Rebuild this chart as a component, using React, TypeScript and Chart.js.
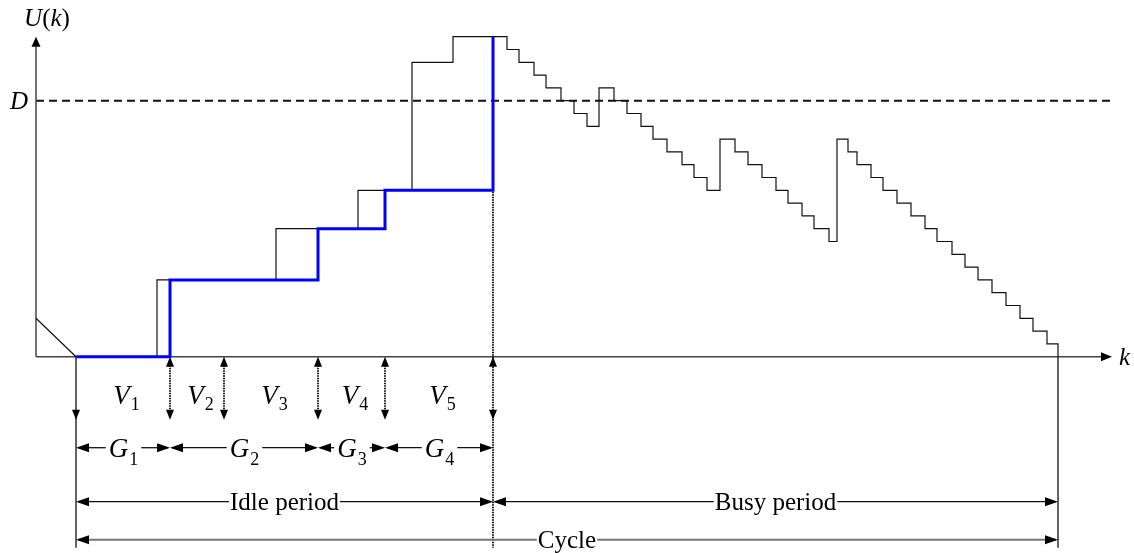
import React, { useEffect, useRef } from 'react';
import { Chart, registerables } from 'chart.js';

Chart.register(...registerables);

// ---- Data (k = time slot, U = unfinished work; D = threshold) ----
// Arrival workload staircase: level of U(k) that starts at each k
const arrivalK = [4.0, 12.1, 24.0, 32.2, 37.6, 41.7, 47.1, 48.3, 49.8, 51.0, 52.5, 53.8, 55.1, 56.3, 57.8, 59.1, 60.5, 61.7, 63.1, 64.6, 65.8, 67.1, 68.4, 69.9, 71.2, 72.6, 74.0, 75.2, 76.6, 77.8, 79.3, 80.1, 81.2, 82.1, 83.5, 84.7, 86.1, 87.5, 88.9, 90.1, 91.6, 92.9, 94.2, 95.6, 97.0, 98.4, 99.7, 101.1, 102.2];
const arrivalU = [0, 3, 5, 6.5, 11.5, 12.5, 12, 11.5, 11, 10.5, 10, 9.5, 9, 10.5, 10, 9.5, 9, 8.5, 8, 7.5, 7, 6.5, 8.5, 8, 7.5, 7, 6.5, 6, 5.5, 5, 4.5, 8.5, 8, 7.5, 7, 6.5, 6, 5.5, 5, 4.5, 4, 3.5, 3, 2.5, 2, 1.5, 1, 0.5, 0];
// Workload seen at gate instants (blue)
const gateK = [4.0, 13.4, 28.2, 34.9, 45.7];
const gateU = [0, 3, 5, 6.5, 12.5];
// Previous busy period draining
const drainK = [0, 4.0];
const drainU = [1.5, 0];
// Vacation boundaries
const vacationK = [4.0, 13.4, 18.8, 28.2, 34.9, 45.7];
const vLabels = ['1', '2', '3', '4', '5'];
const gLabels = ['1', '2', '3', '4'];
const thresholdD = 10;
const idleStart = 4.0;
const busyStart = 45.7;
const busyEnd = 102.2;
const axisTopU = 12.5;
const axisEndK = 107.6;

const SERIF = '"Liberation Serif", "Times New Roman", serif';

function arrowHead(ctx: CanvasRenderingContext2D, tx: number, ty: number, dir: 'up' | 'down' | 'left' | 'right', len: number, half: number) {
  ctx.beginPath();
  ctx.moveTo(tx, ty);
  if (dir === 'up') { ctx.lineTo(tx - half, ty + len); ctx.lineTo(tx + half, ty + len); }
  if (dir === 'down') { ctx.lineTo(tx - half, ty - len); ctx.lineTo(tx + half, ty - len); }
  if (dir === 'left') { ctx.lineTo(tx + len, ty - half); ctx.lineTo(tx + len, ty + half); }
  if (dir === 'right') { ctx.lineTo(tx - len, ty - half); ctx.lineTo(tx - len, ty + half); }
  ctx.closePath();
  ctx.fill();
}

function seg(ctx: CanvasRenderingContext2D, x1: number, y1: number, x2: number, y2: number) {
  ctx.beginPath();
  ctx.moveTo(x1, y1);
  ctx.lineTo(x2, y2);
  ctx.stroke();
}

function subLabel(ctx: CanvasRenderingContext2D, main: string, sub: string, cx: number, base: number, size: number, subSize: number, subDrop: number) {
  ctx.font = `italic ${size}px ${SERIF}`;
  const w1 = ctx.measureText(main).width;
  ctx.font = `${subSize}px ${SERIF}`;
  const w2 = ctx.measureText(sub).width;
  const left = cx - (w1 + w2) / 2;
  ctx.textAlign = 'left';
  ctx.textBaseline = 'alphabetic';
  ctx.font = `italic ${size}px ${SERIF}`;
  ctx.fillText(main, left, base);
  ctx.font = `${subSize}px ${SERIF}`;
  ctx.fillText(sub, left + w1 + 1, base + subDrop);
  return [left, left + w1 + w2 + 1];
}

function spanArrow(ctx: CanvasRenderingContext2D, xa: number, xb: number, yy: number, gapL: number, gapR: number, head: number) {
  seg(ctx, xa + 2, yy, gapL, yy);
  seg(ctx, gapR, yy, xb - 2, yy);
  arrowHead(ctx, xa, yy, 'left', head, 4.5);
  arrowHead(ctx, xb, yy, 'right', head, 4.5);
}

const diagram = {
  id: 'diagram',
  beforeDatasetsDraw(chart: any) {
    const { ctx, scales } = chart;
    const X = (k: number) => scales.x.getPixelForValue(k);
    const Y = (u: number) => scales.y.getPixelForValue(u);
    const x0 = X(0);
    const y0 = Y(0);
    ctx.save();

    // threshold D
    ctx.strokeStyle = '#111';
    ctx.lineWidth = 2;
    ctx.setLineDash([8, 5]);
    seg(ctx, x0, Y(thresholdD), X(axisEndK), Y(thresholdD));
    ctx.setLineDash([]);

    // axes
    ctx.strokeStyle = '#444';
    ctx.fillStyle = '#000';
    ctx.lineWidth = 1.5;
    seg(ctx, x0, y0, x0, Y(axisTopU) + 6);
    arrowHead(ctx, x0, Y(axisTopU), 'up', 10, 4.5);
    seg(ctx, x0, y0, X(axisEndK) - 6, y0);
    arrowHead(ctx, X(axisEndK), y0, 'right', 11, 4.5);

    // axis labels
    ctx.fillStyle = '#000';
    ctx.textBaseline = 'alphabetic';
    ctx.textAlign = 'left';
    const parts: [string, boolean][] = [['U', true], ['(', false], ['k', true], [')', false]];
    let tw = 0;
    for (const [t, it] of parts) { ctx.font = `${it ? 'italic ' : ''}25px ${SERIF}`; tw += ctx.measureText(t).width; }
    let px = x0 + 11 - tw / 2;
    for (const [t, it] of parts) { ctx.font = `${it ? 'italic ' : ''}25px ${SERIF}`; ctx.fillText(t, px, 26); px += ctx.measureText(t).width; }
    ctx.font = `italic 25px ${SERIF}`;
    ctx.textAlign = 'right';
    ctx.fillText('D', x0 - 8, Y(thresholdD) + 8);
    ctx.textAlign = 'left';
    ctx.fillText('k', X(axisEndK) + 7, y0 + 8);

    const bottom = y0 + 191;
    const vTip = y0 + 63;

    // idle start marker (solid)
    ctx.strokeStyle = '#222';
    ctx.lineWidth = 1.4;
    seg(ctx, X(idleStart), y0, X(idleStart), bottom);
    arrowHead(ctx, X(idleStart), vTip, 'down', 10, 4);
    // busy end marker (solid)
    seg(ctx, X(busyEnd), y0, X(busyEnd), bottom);

    // dotted vacation-end arrows
    ctx.strokeStyle = '#000';
    ctx.lineWidth = 1.8;
    ctx.setLineDash([1.5, 1]);
    for (let i = 1; i < vacationK.length - 1; i++) {
      seg(ctx, X(vacationK[i]), y0 + 6, X(vacationK[i]), vTip - 6);
    }
    seg(ctx, X(busyStart), Y(axisTopU), X(busyStart), bottom);
    ctx.setLineDash([]);
    for (let i = 1; i < vacationK.length; i++) {
      arrowHead(ctx, X(vacationK[i]), y0, 'up', 10, 4);
      arrowHead(ctx, X(vacationK[i]), vTip, 'down', 10, 4);
    }

    // V labels
    for (let i = 0; i < vLabels.length; i++) {
      const cx = (X(vacationK[i]) + X(vacationK[i + 1])) / 2 + 3;
      subLabel(ctx, 'V', vLabels[i], cx, y0 + 47, 27, 18, 6);
    }

    // G row
    const gy = y0 + 91;
    ctx.strokeStyle = '#111';
    ctx.lineWidth = 1.3;
    for (let i = 0; i < gLabels.length; i++) {
      const a = X(gateK[i]);
      const b = X(gateK[i + 1]);
      const [l, r] = subLabel(ctx, 'G', gLabels[i], (a + b) / 2, gy + 9, 27, 18, 8);
      spanArrow(ctx, a, b, gy, l - 3, r + 3, 13);
    }

    // period rows
    const textSpan = (txt: string, a: number, b: number, yy: number) => {
      ctx.font = `25px ${SERIF}`;
      ctx.textAlign = 'center';
      ctx.textBaseline = 'alphabetic';
      const w = ctx.measureText(txt).width;
      const c = (a + b) / 2;
      ctx.fillText(txt, c, yy + 8);
      spanArrow(ctx, a, b, yy, c - w / 2 - 1, c + w / 2 + 1, 13);
    };
    ctx.strokeStyle = '#111';
    ctx.lineWidth = 1.3;
    textSpan('Idle period', X(idleStart), X(busyStart), y0 + 145);
    textSpan('Busy period', X(busyStart), X(busyEnd), y0 + 145);
    ctx.strokeStyle = '#777';
    ctx.lineWidth = 2;
    textSpan('Cycle', X(idleStart), X(busyEnd), y0 + 183);

    ctx.restore();
  },
};

export default function App() {
  const ref = useRef<HTMLCanvasElement | null>(null);
  useEffect(() => {
    if (!ref.current) return;
    const chart = new Chart(ref.current, {
      type: 'line',
      data: {
        datasets: [
          {
            label: 'gate workload',
            data: gateK.map((k, i) => ({ x: k, y: gateU[i] })),
            stepped: true,
            borderColor: '#0000ff',
            borderWidth: 3,
            pointRadius: 0,
            fill: false,
            order: 0,
            borderJoinStyle: 'miter',
          },
          {
            label: 'workload',
            data: arrivalK.map((k, i) => ({ x: k, y: arrivalU[i] })),
            stepped: true,
            borderColor: '#111',
            borderWidth: 1.2,
            pointRadius: 0,
            fill: false,
            order: 1,
          },
          {
            label: 'drain',
            data: drainK.map((k, i) => ({ x: k, y: drainU[i] })),
            borderColor: '#111',
            borderWidth: 1.2,
            pointRadius: 0,
            fill: false,
            order: 2,
          },
        ],
      },
      options: {
        responsive: false,
        animation: false,
        devicePixelRatio: 1,
        events: [],
        layout: { padding: 0 },
        scales: {
          x: { type: 'linear', min: -3.6, max: 109.8, display: false },
          y: { type: 'linear', min: -7.668, max: 13.934, display: false },
        },
        plugins: { legend: { display: false }, tooltip: { enabled: false } },
      } as any,
      plugins: [diagram],
    });
    return () => chart.destroy();
  }, []);
  return (
    <div style={{ position: 'fixed', left: 0, top: 0, width: 1134, height: 553, background: '#fff' }}>
      <canvas ref={ref} width={1134} height={553} style={{ width: 1134, height: 553, display: 'block' }} />
    </div>
  );
}
